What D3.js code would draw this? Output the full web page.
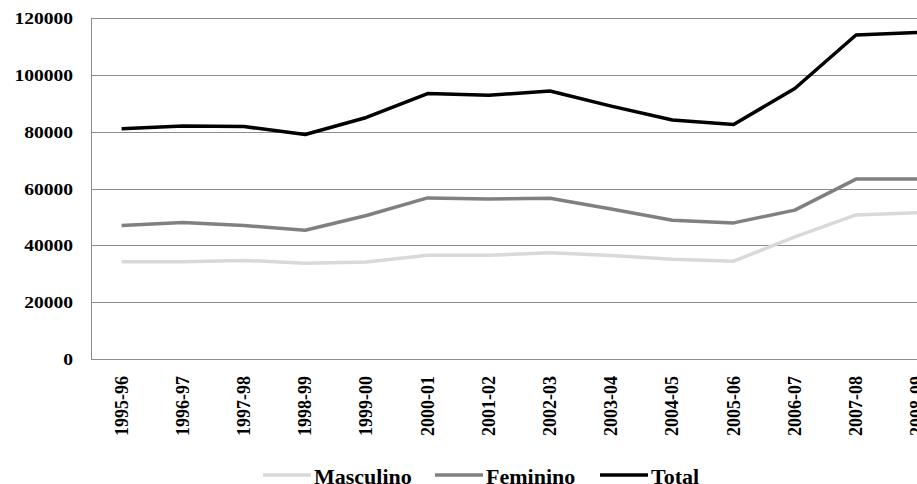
<!DOCTYPE html>
<html>
<head>
<meta charset="utf-8">
<script src="https://cdn.jsdelivr.net/npm/d3@7/dist/d3.min.js"></script>
<style>
  html, body { margin: 0; padding: 0; background: #fff; overflow: hidden; }
  svg { display: block; }
</style>
</head>
<body>
<script>
// School years on the horizontal axis
const years = ["1995-96", "1996-97", "1997-98", "1998-99", "1999-00", "2000-01", "2001-02",
               "2002-03", "2003-04", "2004-05", "2005-06", "2006-07", "2007-08", "2008-09"];

// Enrolment by sex and overall
const masculino = [34200, 34200, 34700, 33700, 34100, 36500, 36500, 37400, 36400, 35100, 34400, 43000, 50700, 51500];
const feminino  = [47000, 48000, 47000, 45300, 50500, 56700, 56300, 56600, 52800, 48800, 47900, 52400, 63300, 63300];
const total     = [81000, 82000, 81800, 79000, 85000, 93400, 92800, 94300, 89000, 84100, 82500, 95200, 114000, 114900];

const yTicks = [0, 20000, 40000, 60000, 80000, 100000, 120000];

const seriesNames = ["Masculino", "Feminino", "Total"];
const seriesColors = ["#d9d9d9", "#808080", "#000000"];
const seriesData = [masculino, feminino, total];

const FONT = "'Liberation Serif', 'Times New Roman', Times, 'DejaVu Serif', serif";

const W = 917, H = 484;
const left = 91, plotTop = 18, plotBottom = 359;
const step = 61.2;

const svg = d3.select("body").append("svg").attr("width", W).attr("height", H)
  .attr("font-family", FONT).attr("font-weight", "bold");

const x = d3.scaleBand().domain(years).range([left, left + step * years.length]).paddingInner(0).paddingOuter(0);
const y = d3.scaleLinear().domain([0, 120000]).range([plotBottom, plotTop]);

// Horizontal gridlines
svg.append("g").selectAll("line").data(yTicks.filter(d => d > 0)).join("line")
  .attr("x1", left).attr("x2", W)
  .attr("y1", d => Math.round(y(d)) + 0.5).attr("y2", d => Math.round(y(d)) + 0.5)
  .attr("stroke", "#8c8c8c").attr("stroke-width", 1);

// Axis lines
svg.append("line").attr("x1", left + 0.5).attr("x2", left + 0.5)
  .attr("y1", plotTop).attr("y2", plotBottom + 1).attr("stroke", "#8c8c8c");
svg.append("line").attr("x1", left).attr("x2", W)
  .attr("y1", plotBottom + 0.5).attr("y2", plotBottom + 0.5).attr("stroke", "#8c8c8c");

// Y tick labels
svg.append("g").selectAll("text").data(yTicks).join("text")
  .attr("transform", d => `translate(73,${y(d) + 6}) scale(1.15,1)`)
  .attr("text-anchor", "end")
  .attr("font-size", 17)
  .text(d => d);

// X tick labels, rotated
svg.append("g").selectAll("text").data(years).join("text")
  .attr("transform", d => `translate(${x(d) + x.bandwidth() / 2 + 6},376) rotate(-90)`)
  .attr("text-anchor", "end")
  .attr("font-size", 18)
  .text(d => d);

// Series lines
const line = d3.line()
  .x((d, i) => x(years[i]) + x.bandwidth() / 2)
  .y(d => y(d));

svg.append("g").selectAll("path").data(seriesData).join("path")
  .attr("d", d => line(d))
  .attr("fill", "none")
  .attr("stroke", (d, i) => seriesColors[i])
  .attr("stroke-width", 3.5)
  .attr("stroke-linejoin", "round");

// Legend
const legendX = [263, 435, 600];
const lg = svg.append("g");
seriesNames.forEach((name, i) => {
  lg.append("line")
    .attr("x1", legendX[i]).attr("x2", legendX[i] + 48)
    .attr("y1", 475).attr("y2", 475)
    .attr("stroke", seriesColors[i]).attr("stroke-width", 3.5);
  lg.append("text")
    .attr("x", legendX[i] + 51).attr("y", 484)
    .attr("font-size", 22)
    .text(name);
});
</script>
</body>
</html>
